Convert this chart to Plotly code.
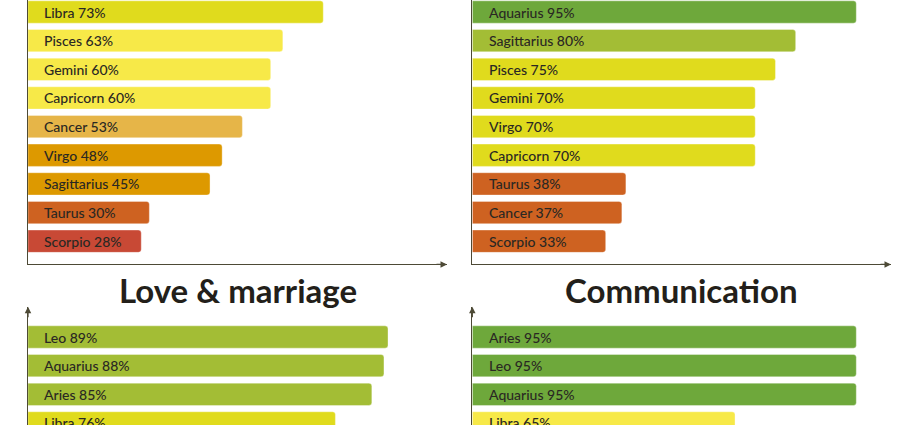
import plotly.graph_objects as go

W, H = 920, 425

# ---- data ----
tl_signs = ["Libra", "Pisces", "Gemini", "Capricorn", "Cancer", "Virgo", "Sagittarius", "Taurus", "Scorpio"]
tl_vals = [73, 63, 60, 60, 53, 48, 45, 30, 28]
tl_cols = ["#E0DB1D", "#F7E948", "#F7E948", "#F7E948", "#E6B548", "#DD9900", "#DD9900", "#CE6221", "#C84935"]

tr_signs = ["Aquarius", "Sagittarius", "Pisces", "Gemini", "Virgo", "Capricorn", "Taurus", "Cancer", "Scorpio"]
tr_vals = [95, 80, 75, 70, 70, 70, 38, 37, 33]
tr_cols = ["#6EA83B", "#A3BD35", "#E0DB1D", "#E0DB1D", "#E0DB1D", "#E0DB1D", "#CE6221", "#CE6221", "#CE6221"]

bl_signs = ["Leo", "Aquarius", "Aries", "Libra"]
bl_vals = [89, 88, 85, 76]
bl_cols = ["#A3BD35", "#A3BD35", "#A3BD35", "#E0DB1D"]

br_signs = ["Aries", "Leo", "Aquarius", "Libra"]
br_vals = [95, 95, 95, 65]
br_cols = ["#6EA83B", "#6EA83B", "#6EA83B", "#F7E948"]

titles = ["Love & marriage", "Communication"]

# ---- layout helpers (pixels -> paper) ----
def px(x):
    return x / W

def py(y):
    return 1 - y / H

AXIS_COL = "#4D4A36"
TXT_COL = "#2A2823"
FONT = "Lato"
PITCH = 28.65
XMAX = 419 / 4.045
LABEL_OFF = 3.55

left_dom = [px(28), px(447)]
right_dom = [px(472.3), px(891)]
top_dom = [py(264.4), 1]
bot_dom = [0, py(306.7)]

top_r0 = -12 / PITCH
top_range = [top_r0 + 264.4 / PITCH, top_r0]
bot_r0 = -(337 - 306.7) / PITCH
bot_range = [bot_r0 + (H - 306.7) / PITCH, bot_r0]

panels = [
    (tl_signs, tl_vals, tl_cols, "x", "y", left_dom, top_dom, top_range, True),
    (tr_signs, tr_vals, tr_cols, "x2", "y2", right_dom, top_dom, top_range, True),
    (bl_signs, bl_vals, bl_cols, "x3", "y3", left_dom, bot_dom, bot_range, False),
    (br_signs, br_vals, br_cols, "x4", "y4", right_dom, bot_dom, bot_range, False),
]

fig = go.Figure()
annotations = []
layout = {}

for i, (signs, vals, cols, xa, ya, xdom, ydom, yrange, is_top) in enumerate(panels):
    fig.add_trace(go.Bar(
        y=signs, x=vals, orientation="h",
        marker=dict(color=cols, line=dict(width=0.6, color="rgba(255,255,255,0.6)"), cornerradius=3),
        width=0.78, xaxis=xa, yaxis=ya, hoverinfo="skip", showlegend=False,
    ))
    for s, v in zip(signs, vals):
        annotations.append(dict(
            x=LABEL_OFF, y=s, xref=xa, yref=ya, text=f"{s} {v}%",
            showarrow=False, xanchor="left", yanchor="middle",
            font=dict(family=FONT, size=14, color=TXT_COL, weight=500),
        ))
    n = "" if i == 0 else str(i + 1)
    layout["xaxis" + n] = dict(
        domain=xdom, range=[0, XMAX], anchor=ya, showgrid=False, zeroline=False,
        showticklabels=False, ticks="", showline=is_top, linecolor=AXIS_COL, linewidth=1.3,
    )
    layout["yaxis" + n] = dict(
        domain=ydom, range=yrange, anchor=xa, type="category", categoryorder="array",
        categoryarray=signs, showgrid=False, zeroline=False, showticklabels=False, ticks="",
        showline=True, linecolor=AXIS_COL, linewidth=1.3,
    )
    if is_top:
        annotations.append(dict(
            x=xdom[1], y=ydom[0], xref="paper", yref="paper", ax=-12, ay=0,
            axref="pixel", ayref="pixel", showarrow=True, arrowhead=2, arrowsize=1,
            arrowwidth=1.3, arrowcolor=AXIS_COL, text="",
        ))
    else:
        annotations.append(dict(
            x=xdom[0], y=ydom[1], xref="paper", yref="paper", ax=0, ay=12,
            axref="pixel", ayref="pixel", showarrow=True, arrowhead=2, arrowsize=1,
            arrowwidth=1.3, arrowcolor=AXIS_COL, text="",
        ))

for t, dom in zip(titles, [left_dom, right_dom]):
    annotations.append(dict(
        x=(dom[0] + dom[1]) / 2, y=py(290), xref="paper", yref="paper", text=t,
        showarrow=False, xanchor="center", yanchor="middle",
        font=dict(family=FONT, size=33, color="#231F1A", weight="bold"),
    ))

fig.update_layout(
    width=W, height=H, margin=dict(l=0, r=0, t=0, b=0),
    paper_bgcolor="white", plot_bgcolor="white", bargap=0.22,
    annotations=annotations, **layout,
)

fig.write_html(
    "out.html",
    config={"displayModeBar": False},
    post_script="document.body.style.margin='0';document.body.style.overflow='hidden';",
)
